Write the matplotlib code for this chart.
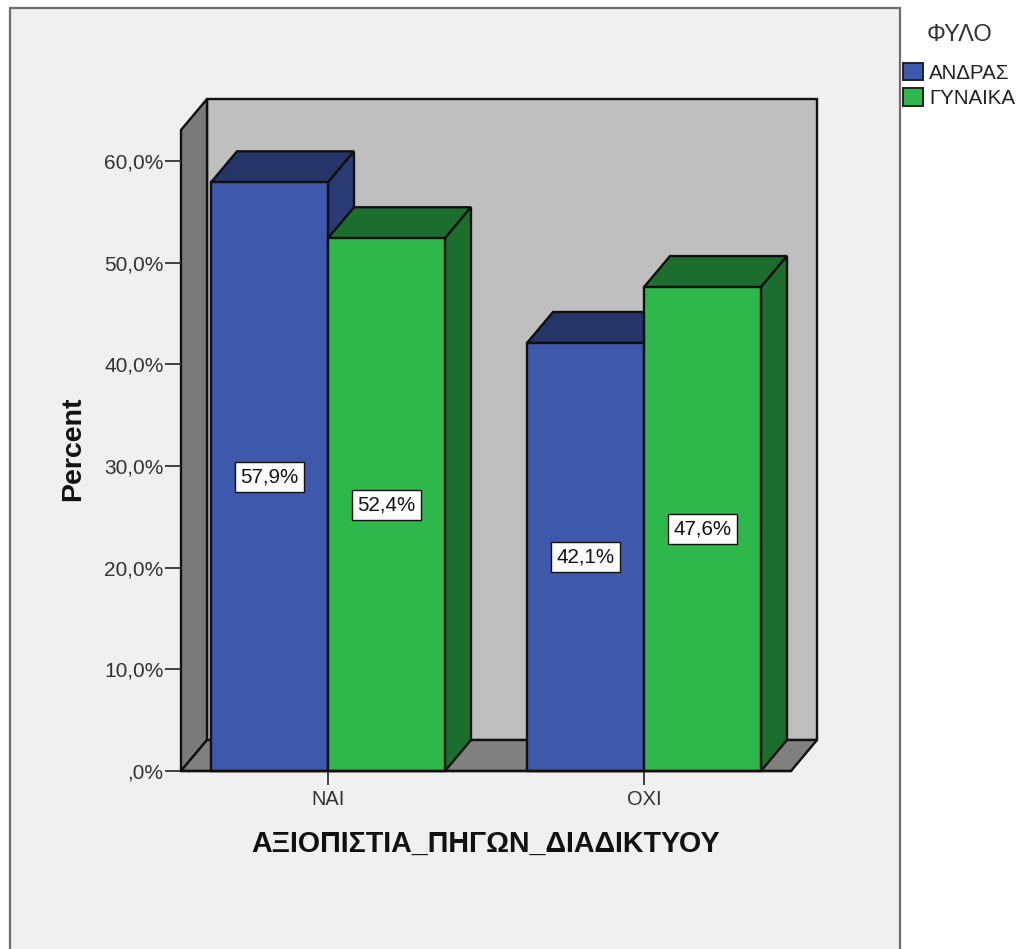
import matplotlib
matplotlib.use("Agg")
import matplotlib.pyplot as plt
from matplotlib.patches import Rectangle, Patch

plt.rcParams['font.family'] = ['Liberation Sans', 'DejaVu Sans']

categories = ["ΝΑΙ", "ΟΧΙ"]
series_names = ["ΑΝΔΡΑΣ", "ΓΥΝΑΙΚΑ"]
male_values = [57.9, 42.1]
female_values = [52.4, 47.6]
y_ticks = [0, 10, 20, 30, 40, 50, 60]
y_tick_labels = [",0%", "10,0%", "20,0%", "30,0%", "40,0%", "50,0%", "60,0%"]
x_title = "ΑΞΙΟΠΙΣΤΙΑ_ΠΗΓΩΝ_ΔΙΑΔΙΚΤΥΟΥ"
y_title = "Percent"
legend_title = "ΦΥΛΟ"

W, H = 1017, 949
PX_PER_X = 316.0
PX_PER_Y = 610.0 / 60.0
DX = 26 / PX_PER_X
DY = 31 / PX_PER_Y
BAR_W = 117 / PX_PER_X
EDGE = "#101010"
LW = 1.7

fig = plt.figure(figsize=(W / 100, H / 100), dpi=100, facecolor="white")
fig.add_artist(Rectangle((9.5 / W, -0.01), (900 - 9.5) / W, 1.01 - 7.5 / H,
                         transform=fig.transFigure, facecolor="#f0f0f0",
                         edgecolor="#6e6e6e", linewidth=1.6, zorder=-5))

ax = fig.add_axes([181 / W, 1 - 771 / H, 610 / W, 641 / H])
ax.patch.set_visible(False)
ax.set_xlim(-147 / PX_PER_X, 463 / PX_PER_X)
ax.set_ylim(0, 641 / PX_PER_Y)
x0, x1 = ax.get_xlim()
y0, y1 = ax.get_ylim()


def poly(xs, ys, color, z):
    ax.fill(xs, ys, facecolor=color, edgecolor=EDGE, linewidth=LW,
            clip_on=False, zorder=z, joinstyle="miter")


# back wall, left wall, floor
poly([x0 + DX, x1 + DX, x1 + DX, x0 + DX], [y0 + DY, y0 + DY, y1 + DY, y1 + DY], "#bfbfbf", 1)
poly([x0, x0 + DX, x0 + DX, x0], [y0, y0 + DY, y1 + DY, y1], "#7a7a7a", 1.1)
poly([x0, x1, x1 + DX, x0 + DX], [y0, y0, y0 + DY, y0 + DY], "#808080", 1.2)

z = 2.0
for name, vals, face, top, side, offs in [
    (series_names[0], male_values, "#3e58ac", "#253469", "#293a75", -0.5),
    (series_names[1], female_values, "#2eb84c", "#1c6e2e", "#1c6e2e", 0.5),
]:
    for i, v in enumerate(vals):
        left = i + offs * BAR_W - BAR_W / 2
        right = left + BAR_W
        poly([left, right, right + DX, left + DX], [v, v, v + DY, v + DY], top, z)
        poly([right, right + DX, right + DX, right], [0, DY, v + DY, v], side, z)
        ax.bar(i + offs * BAR_W, v, width=BAR_W, color=face, edgecolor=EDGE,
               linewidth=LW, zorder=z + 0.1, clip_on=False)
        ax.text(i + offs * BAR_W, v / 2, f"{v:.1f}%".replace(".", ","),
                ha="center", va="center", fontsize=14.8, color="#111111", zorder=10,
                bbox=dict(boxstyle="square,pad=0.27", facecolor="white",
                          edgecolor="#111111", linewidth=1.0))
        z += 0.2

for s in ["top", "right", "left"]:
    ax.spines[s].set_visible(False)
ax.spines["bottom"].set_linewidth(LW)
ax.spines["bottom"].set_color(EDGE)
ax.spines["bottom"].set_zorder(9)
ax.set_yticks(y_ticks, y_tick_labels)
ax.set_xticks([0, 1], categories)
ax.tick_params(axis="y", length=11.5, width=1.3, color="#333333", labelsize=15,
               labelcolor="#333333", pad=1)
ax.tick_params(axis="x", length=10, width=1.3, color="#333333", labelsize=14.4,
               labelcolor="#333333", pad=4)
ax.set_xlabel(x_title, fontsize=20.6, fontweight="bold", color="#111111", labelpad=15)
fig.text(73.5 / W, 1 - 449 / H, y_title, rotation=90, ha="center", va="center",
         fontsize=20.5, fontweight="bold", color="#111111")

handles = [Patch(facecolor="#3e58ac", edgecolor="#222222", linewidth=1.4),
           Patch(facecolor="#2eb84c", edgecolor="#222222", linewidth=1.4)]
leg = fig.legend(handles, series_names, title=legend_title, loc="upper left",
                 bbox_to_anchor=(903 / W, 1 - 24 / H), frameon=False,
                 borderpad=0, borderaxespad=0, handlelength=0.98, handleheight=0.95,
                 handletextpad=0.3, labelspacing=0.26,
                 prop={"size": 14.8}, title_fontsize=17)
leg.get_title().set_color("#333333")
leg._legend_box.sep = 12
for t in leg.get_texts():
    t.set_color("#222222")

fig.savefig("out.png", dpi=100, facecolor="white")
